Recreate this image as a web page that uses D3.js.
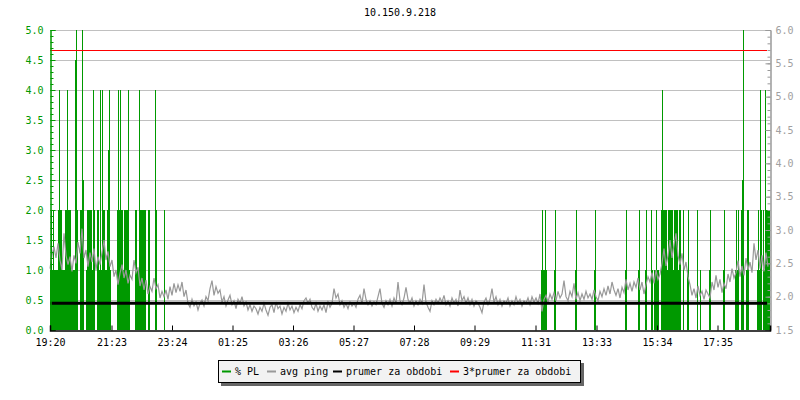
<!DOCTYPE html>
<html><head><meta charset="utf-8">
<script src="https://cdn.jsdelivr.net/npm/d3@7"></script>
<style>
html,body{margin:0;padding:0;background:#fff;}
svg{display:block;}
text{font-family:"DejaVu Sans Mono",monospace;font-size:10px;}
</style></head><body>
<svg id="c" width="800" height="400"></svg>
<script>
// ---------- DATA ----------
const title = "10.150.9.218";
const spanMinutes = 1440;           // 24 h window starting 19:20
const pingStepMinutes = 4;          // one ping value every 4 min
// x tick labels and their minutes after 19:20
const xTickLabels  = ["19:20","21:23","23:24","01:25","03:26","05:27","07:28","09:29","11:31","13:33","15:34","17:35"];
const xTickMinutes = [0,123,244,365,486,607,728,849,971,1093,1214,1335];
// left axis (% PL) ticks, right axis (ping ms) ticks
const leftTicks  = [0,0.5,1,1.5,2,2.5,3,3.5,4,4.5,5];
const rightTicks = [1.5,2,2.5,3,3.5,4,4.5,5,5.5,6];
// packet loss samples: minutes after start and % value
const plMinutes = [0,2,4,6,8,10,12,14,16,18,20,22,24,26,28,30,32,34,36,38,40,42,44,46,48,50,52,54,60,62,64,66,72,74,76,78,80,82,84,86,88,94,96,98,100,102,104,106,108,110,112,114,116,118,120,134,136,138,140,142,144,146,148,150,152,154,156,158,170,172,174,176,178,180,182,184,186,188,190,196,198,210,212,228,
 982,984,986,988,990,992,1008,1010,1050,1052,1088,1090,1150,1152,1176,1178,1190,1192,1202,1204,1208,1210,1212,1214,1216,1222,1224,1226,1228,1230,1232,1234,1236,1238,1240,1242,1244,1246,1248,1250,1252,1254,1256,1258,1260,1266,1274,1276,1294,1300,1318,1320,1346,1348,1370,1372,1374,1376,1382,1384,1386,1392,1394,1396,1414,1416,1418,1420,1422,1426,1428,1430,1432,1434,1436,1438];
const plValues  = [1,2,1,2,1,1,1,1,2,4,2,2,1,1,1,2,2,4,2,2,2,1,1,1,1,4.5,5,2,2,2,5,2.5,1,2,2,2,2,2,1,4,2,2,2,1,4,1,4,2,2,1,1,2,3,4,1,2,4,2,4,2,2,1,2,2,2,2,4,1,2,2,1,1,4,2,2,2,2,2,2,2,2,4,2,2,
 1,2,1,1,2,1,1,2,1,2,1,2,1,2,1,2,1,2,2,1,1,1,2,1,1,2,4,2,2,2,2,1,2,2,2,2,2,1,2,2,2,2,1,2,2,2,1,2,2,1,1,2,1,2,1,2,1,2,2,2.5,5,1,2,2,1,2,1,4,2,2,1,4,2,2,2,2];
// average ping (ms), one value every 4 minutes
const pingValues = [
 2.42,2.62,2.75,2.58,2.80,2.55,2.40,2.95,2.62,2.48,2.60,2.38,2.62,2.50,2.82,2.65,3.02,2.58,2.70,2.45,
 2.66,2.52,2.72,2.40,2.60,2.48,2.66,2.85,2.55,2.68,2.45,2.55,2.30,2.40,2.18,2.35,2.48,2.28,2.40,2.20,
 2.32,2.26,2.55,2.36,2.44,2.16,2.28,2.10,2.25,2.04,2.15,2.08,2.28,2.12,2.18,1.98,2.08,2.00,2.10,1.96,
 2.15,2.02,2.20,2.06,2.18,2.08,2.22,2.00,2.10,1.90,1.84,1.96,1.86,1.92,1.80,1.90,1.95,1.86,2.00,1.94,
 2.12,2.24,2.02,2.15,2.05,2.10,1.92,2.00,1.86,1.95,2.02,1.88,1.94,1.82,1.96,1.90,2.00,1.86,1.92,1.80,
 1.88,1.78,1.86,1.82,1.74,1.84,1.78,1.90,1.80,1.72,1.84,1.88,1.76,1.92,1.82,1.86,1.74,1.84,1.78,1.90,
 1.80,1.86,1.76,1.84,1.78,1.88,1.82,1.94,1.98,1.90,1.96,1.84,1.80,1.90,1.78,1.86,1.80,1.88,1.76,1.92,
 1.84,1.90,2.12,1.98,2.04,1.88,1.94,1.84,1.90,1.82,1.92,1.86,1.90,1.84,1.96,2.02,1.90,2.12,1.96,1.88,
 1.94,1.86,1.92,1.88,2.00,2.12,1.90,1.84,1.94,1.88,1.96,1.86,1.98,1.90,2.22,1.94,1.88,1.98,2.14,1.96,
 1.90,1.98,1.86,1.94,1.88,1.96,1.90,2.18,1.92,1.84,1.78,1.94,1.88,1.96,1.90,1.98,1.92,2.02,1.88,1.94,
 1.86,1.98,1.90,1.96,1.86,2.10,1.94,2.00,1.90,1.98,1.88,1.96,1.86,1.94,1.90,1.84,1.76,1.92,1.98,1.88,
 1.96,2.12,1.92,2.00,1.88,1.96,1.86,1.94,1.90,1.98,1.86,1.94,1.88,2.00,1.90,1.96,1.86,1.94,1.90,1.98,
 1.88,2.00,1.92,1.98,1.90,2.04,1.78,1.96,2.02,1.92,2.04,1.96,2.06,1.94,2.08,1.98,2.04,2.24,2.00,1.94,
 2.08,2.00,2.20,1.96,2.06,1.94,2.04,1.96,2.08,1.98,2.04,1.96,2.10,2.00,1.94,2.08,2.00,2.12,2.02,2.16,
 2.04,2.22,2.10,2.02,2.12,1.98,2.14,2.06,2.26,2.10,2.20,2.08,2.22,2.14,2.28,2.10,2.22,2.04,2.18,2.30,
 2.22,2.36,2.20,2.40,2.26,2.34,2.50,2.72,2.46,2.62,2.85,2.58,2.78,2.95,2.62,2.48,2.65,2.40,2.52,2.30,
 2.18,2.02,2.12,1.98,2.16,2.02,2.08,1.96,2.10,2.04,1.98,2.22,2.10,2.32,2.14,2.26,2.06,2.20,2.12,2.34,
 2.22,2.42,2.28,2.36,2.54,2.30,2.46,2.32,2.58,2.40,2.52,2.36,2.80,2.55,2.70,2.42,2.62,2.38,2.66,2.45];
const avgPing = 1.9;      // prumer za obdobi (ms)
const avgPing3 = 5.7;     // 3*prumer za obdobi (ms)
const legendItems = [
  {label:"% PL", color:"#009900"},
  {label:"avg ping", color:"#999999"},
  {label:"prumer za obdobi", color:"#000000"},
  {label:"3*prumer za obdobi", color:"#ff0000"}
];

// ---------- LAYOUT ----------
const L = 50, R = 770, T = 30, B = 330;
const GREEN = "#009900", GREY = "#999999", GRID = "#c0c0c0";
const svg = d3.select("#c");

const x  = d3.scaleLinear().domain([0, spanMinutes]).range([L, R]);
const yL = d3.scaleLinear().domain([0, 5]).range([B, T]);
const yR = d3.scaleLinear().domain([1.5, 6]).range([B, T]);

// title
svg.append("text").attr("x", 400).attr("y", 16).attr("text-anchor","middle")
  .attr("fill","#000").text(title);

// grid
svg.append("g").selectAll("line").data(leftTicks.filter(d=>d>0)).join("line")
  .attr("x1", L).attr("x2", R).attr("y1", d=>Math.round(yL(d))+0.5).attr("y2", d=>Math.round(yL(d))+0.5)
  .attr("stroke", GRID).attr("stroke-width",1);

// PL bars
svg.append("g").attr("shape-rendering","crispEdges").selectAll("rect")
  .data(plMinutes.map((m,i)=>({m, v:plValues[i]}))).join("rect")
  .attr("x", d=>x(d.m)).attr("width", d=>x(d.m+2)-x(d.m))
  .attr("y", d=>yL(d.v)).attr("height", d=>yL(0)-yL(d.v))
  .attr("fill", GREEN);

// ping line
const pingData = pingValues.map((v,i)=>({m:i*pingStepMinutes, v}));
svg.append("path").datum(pingData)
  .attr("d", d3.line().x(d=>x(d.m)).y(d=>yR(d.v)))
  .attr("fill","none").attr("stroke", GREY).attr("stroke-width",1.2);

// average lines
const xEnd = x(1434);
svg.append("line").attr("x1",L).attr("x2",xEnd).attr("y1",yR(avgPing)).attr("y2",yR(avgPing))
  .attr("stroke","#000").attr("stroke-width",3);
svg.append("line").attr("x1",L).attr("x2",xEnd).attr("y1",Math.round(yR(avgPing3))+0.5).attr("y2",Math.round(yR(avgPing3))+0.5)
  .attr("stroke","#ff0000").attr("stroke-width",1);

// left axis (green)
const minorL = d3.range(0, 5.001, 0.1);
const gLm = svg.append("g").attr("transform",`translate(${L+0.5},0)`)
  .call(d3.axisLeft(yL).tickValues(minorL).tickSize(-3).tickFormat(""));
const gL = svg.append("g").attr("transform",`translate(${L+0.5},0)`)
  .call(d3.axisLeft(yL).tickValues(leftTicks).tickSize(-5).tickPadding(7).tickFormat(d3.format(".1f")));
[gLm,gL].forEach(g=>{g.selectAll("path,line").attr("stroke",GREEN);});
gL.selectAll("text").attr("fill",GREEN).style("font-size","10px").style("font-family",'"DejaVu Sans Mono",monospace');

// right axis (grey)
const minorR = d3.range(1.5, 6.001, 0.1);
const gRm = svg.append("g").attr("transform",`translate(${R+0.5},0)`)
  .call(d3.axisRight(yR).tickValues(minorR).tickSize(-3).tickFormat(""));
const gR = svg.append("g").attr("transform",`translate(${R+0.5},0)`)
  .call(d3.axisRight(yR).tickValues(rightTicks).tickSize(-5).tickPadding(5).tickFormat(d3.format(".1f")));
[gRm,gR].forEach(g=>{g.selectAll("path,line").attr("stroke",GREY);});
gR.selectAll("text").attr("fill","#a0a0a0").style("font-size","10px").style("font-family",'"DejaVu Sans Mono",monospace');

// bottom axis
const gB = svg.append("g").attr("transform",`translate(0,${B+0.5})`)
  .call(d3.axisBottom(x).tickValues(xTickMinutes).tickSize(-5).tickPadding(8)
    .tickFormat((d,i)=>xTickLabels[i]));
gB.selectAll("path,line").attr("stroke","#000");
gB.select("path").attr("stroke-width",1.5);
gB.selectAll("text").attr("fill","#000").style("font-size","10px").style("font-family",'"DejaVu Sans Mono",monospace');

// legend
const lg = svg.append("g");
lg.append("rect").attr("x",221).attr("y",363).attr("width",363).attr("height",23).attr("fill","#666");
lg.append("rect").attr("x",218.5).attr("y",360.5).attr("width",362).attr("height",22)
  .attr("fill","#f2f2f2").attr("stroke","#000");
const swX = [222, 267, 333, 450];
legendItems.forEach((it,i)=>{
  lg.append("line").attr("x1",swX[i]).attr("x2",swX[i]+9).attr("y1",371.5).attr("y2",371.5)
    .attr("stroke",it.color).attr("stroke-width",2);
  lg.append("text").attr("x",swX[i]+13).attr("y",375).attr("fill","#000").text(it.label);
});
</script></body></html>
